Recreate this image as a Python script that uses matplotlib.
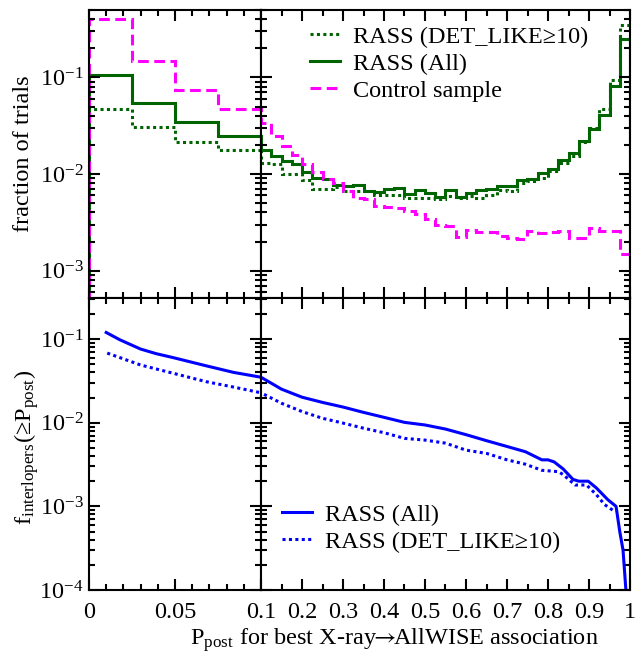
import numpy as np
import matplotlib
matplotlib.use('Agg')
import matplotlib.pyplot as plt
from matplotlib.ticker import MultipleLocator, LogLocator, NullFormatter

plt.rcParams['font.family'] = 'Liberation Serif'
plt.rcParams['mathtext.fontset'] = 'stix'
plt.rcParams['font.size'] = 17.5

# histogram of P_post, bins of 0.025 from 0 to 1
bin_edges = np.linspace(0, 1, 41)
frac_all = [0.105, 0.0547, 0.0344, 0.025,
            0.0179, 0.0155, 0.0136, 0.0128, 0.0105, 0.0090, 0.0089, 0.0077, 0.0076,
            0.0077, 0.0067, 0.0065, 0.0070, 0.0072, 0.0062, 0.0069, 0.0064, 0.0058,
            0.0068, 0.0058, 0.0063, 0.0069, 0.0070, 0.0076, 0.0076, 0.0086, 0.0088,
            0.0102, 0.0114, 0.0141, 0.0165, 0.0219, 0.0295, 0.0405, 0.082, 0.248]
frac_det = [0.047, 0.031, 0.0214, 0.0177,
            0.0131, 0.0128, 0.0101, 0.0100, 0.0087, 0.0070, 0.0070, 0.0073, 0.0067,
            0.0066, 0.0066, 0.0061, 0.0060, 0.0061, 0.0056, 0.0056, 0.0057, 0.0055,
            0.0059, 0.0056, 0.0059, 0.0057, 0.0060, 0.0068, 0.0066, 0.0080, 0.0085,
            0.0091, 0.0107, 0.0129, 0.0153, 0.0214, 0.030, 0.047, 0.094, 0.35]
frac_ctrl = [0.40, 0.148, 0.075, 0.047,
             0.034, 0.025, 0.0195, 0.0156, 0.0128, 0.0105, 0.0088, 0.0080, 0.0066,
             0.0056, 0.0055, 0.0047, 0.0046, 0.0044, 0.0041, 0.0039, 0.0034, 0.0030,
             0.0029, 0.00223, 0.00262, 0.0025, 0.0025, 0.00227, 0.0022, 0.0021,
             0.00255, 0.00245, 0.0025, 0.00255, 0.0022, 0.0022, 0.00277, 0.00255,
             0.00255, 0.00147]

# interloper fraction vs P_post
p_all = [0.01, 0.018, 0.03, 0.039, 0.049, 0.068, 0.084, 0.1, 0.15, 0.2, 0.25, 0.3,
         0.35, 0.4, 0.45, 0.5, 0.55, 0.6, 0.65, 0.7, 0.745, 0.785, 0.80, 0.815,
         0.837, 0.861, 0.875, 0.898, 0.918, 0.946, 0.966, 0.975, 0.983, 0.99]
f_all = [0.12, 0.098, 0.076, 0.067, 0.060, 0.048, 0.040, 0.035, 0.0252, 0.0202,
         0.0175, 0.0154, 0.0133, 0.0116, 0.0101, 0.0094, 0.0084, 0.0072, 0.0061,
         0.0052, 0.0045, 0.0036, 0.0036, 0.0034, 0.0028, 0.0021, 0.0020, 0.0020,
         0.00166, 0.0012, 0.0010, 0.0005, 0.0003, 0.0001]
p_det = [0.0106, 0.03, 0.049, 0.068, 0.084, 0.1, 0.15, 0.2, 0.25, 0.3, 0.35, 0.4,
         0.45, 0.5, 0.55, 0.6, 0.65, 0.7, 0.744, 0.785, 0.825, 0.837, 0.866, 0.894,
         0.918, 0.938, 0.958, 0.966]
f_det = [0.068, 0.049, 0.039, 0.031, 0.0267, 0.0228, 0.0171, 0.0136, 0.0113, 0.0099,
         0.0086, 0.0076, 0.0065, 0.0062, 0.0057, 0.0047, 0.0043, 0.0036, 0.0032,
         0.0027, 0.0026, 0.0024, 0.0018, 0.0018, 0.00138, 0.00105, 0.0009, 0.00088]

green = '#006400'
magenta = '#ff00ff'
blue = '#0000ff'

fig = plt.figure(figsize=(6.44, 6.54), dpi=100)
x0, xm, x1 = 89 / 644, 261 / 644, 630 / 644
ytop, ymid, ybot = 1 - 10 / 654, 1 - 298 / 654, 1 - 590 / 654
ax_tl = fig.add_axes([x0, ymid, xm - x0, ytop - ymid])
ax_tr = fig.add_axes([xm, ymid, x1 - xm, ytop - ymid])
ax_bl = fig.add_axes([x0, ybot, xm - x0, ymid - ybot])
ax_br = fig.add_axes([xm, ybot, x1 - xm, ymid - ybot])

for ax in (ax_tl, ax_tr):
    ax.stairs(frac_det, bin_edges, baseline=1e-6, color=green, lw=2.2,
              linestyle=(0, (1, 1.1)), label='RASS (DET_LIKE≥10)')
    ax.stairs(frac_all, bin_edges, baseline=1e-6, color=green, lw=2.2,
              label='RASS (All)')
    ax.stairs(frac_ctrl, bin_edges, baseline=1e-6, color=magenta, lw=2.2,
              linestyle=(0, (3.5, 1.8)), label='Control sample')
    ax.set_yscale('log')
    ax.set_ylim(5.2e-4, 0.5)

for ax in (ax_bl, ax_br):
    ax.plot(p_all, f_all, color=blue, lw=2.2, label='RASS (All)')
    ax.plot(p_det, f_det, color=blue, lw=2.2, linestyle=(0, (1, 1.1)),
            label='RASS (DET_LIKE≥10)')
    ax.set_yscale('log')
    ax.set_ylim(1e-4, 0.31)

for ax in (ax_tl, ax_bl):
    ax.set_xlim(0, 0.1)
    ax.set_xticks([0, 0.05, 0.1])
    ax.set_xticklabels(['0', '0.05', '0.1'])
    ax.xaxis.set_minor_locator(MultipleLocator(0.01))

for ax in (ax_tr, ax_br):
    ax.set_xlim(0.1, 1)
    ax.set_xticks(np.arange(1, 11) / 10)
    ax.set_xticklabels(['', '0.2', '0.3', '0.4', '0.5', '0.6', '0.7', '0.8', '0.9', '1'])
    ax.xaxis.set_minor_locator(MultipleLocator(0.05))
    ax.tick_params(labelleft=False)

for ax in (ax_tl, ax_tr, ax_bl, ax_br):
    ax.yaxis.set_major_locator(LogLocator(base=10, numticks=10))
    ax.yaxis.set_minor_locator(LogLocator(base=10, subs=np.arange(2, 10), numticks=20))
    ax.yaxis.set_minor_formatter(NullFormatter())
    ax.tick_params(which='both', direction='in', top=True, right=True, width=1.5)
    ax.tick_params(which='major', length=8, pad=4)
    ax.tick_params(which='minor', length=4.5)
    ax.tick_params(axis='x', which='major', pad=9)
    for s in ax.spines.values():
        s.set_linewidth(1.5)

ax_tl.tick_params(labelbottom=False)
ax_tr.tick_params(labelbottom=False)

ax_tr.legend(loc='upper left', bbox_to_anchor=(0.133, 0.945), frameon=False,
             handlelength=1.25, handletextpad=0.5, labelspacing=0.2,
             borderaxespad=0, borderpad=0)
ax_br.legend(loc='upper left', bbox_to_anchor=(0.057, 0.295), frameon=False,
             handlelength=1.25, handletextpad=0.5, labelspacing=0.2,
             borderaxespad=0, borderpad=0)

fig.text(24 / 644, 1 - 154 / 654, 'fraction of trials', rotation=90,
         ha='center', va='center')
fig.text(27 / 644, 1 - 447 / 654,
         r'f$_{\mathregular{interlopers}}$(≥P$_{\mathregular{post}}$)',
         rotation=90, ha='center', va='center')
fig.text(394 / 644, 1 - 645 / 654,
         r'P$_{\mathregular{post}}$ for best X-ray$\!\!\rightarrow\!\!$AllWISE association',
         ha='center', va='baseline')

fig.savefig('out.png', dpi=100)
